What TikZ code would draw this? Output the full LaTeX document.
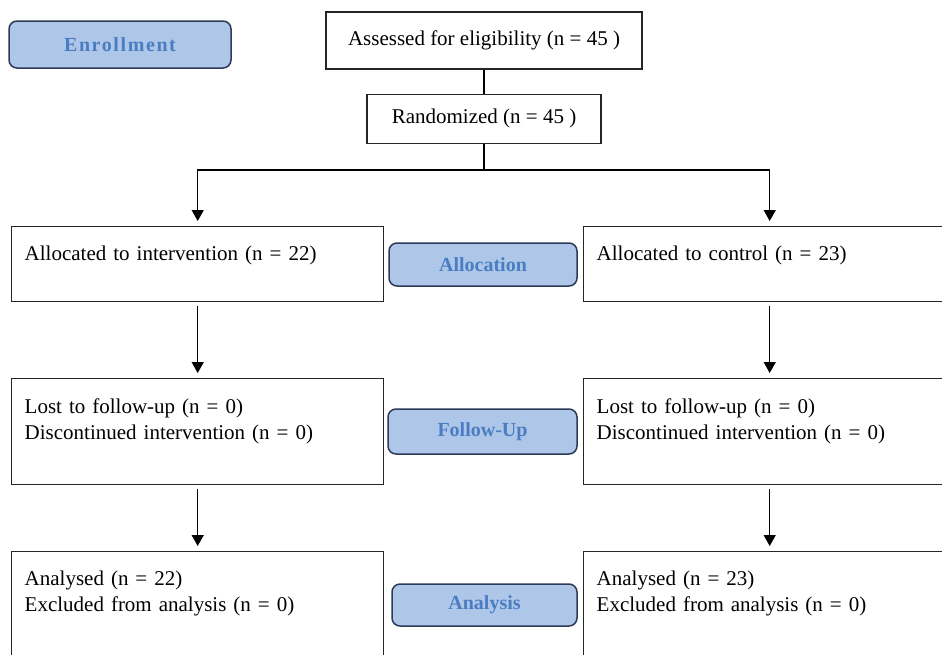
\documentclass[tikz,border=0pt]{standalone}
\usepackage{fontspec}
\setmainfont{Liberation Serif}
\usetikzlibrary{positioning, arrows.meta}

\definecolor{phasefill}{HTML}{AEC6E8}
\definecolor{phaseline}{HTML}{2C3B57}
\definecolor{phasetext}{HTML}{4A7DC2}

\begin{document}
\begin{tikzpicture}[
    x=1pt, y=1pt,
    font=\fontsize{21}{26}\selectfont,
    >={Triangle[width=12pt,length=11pt]},
    line width=1.4pt,
    box/.style={rectangle, draw=black!85, inner sep=0pt, align=center},
    armbox/.style={rectangle, draw=black!85, anchor=north west, inner xsep=13pt, inner ysep=0pt, text width=346pt, align=left},
    phase/.style={rectangle, draw=phaseline, fill=phasefill, rounded corners=8pt, line width=1.5pt, text=phasetext, font=\fontsize{20}{24}\selectfont\bfseries, inner sep=0pt}
]
\useasboundingbox (0,0) rectangle (942,-654);

% trial flow, top
\node[box, minimum width=316pt, minimum height=57pt] (assess) at (484,-40.5) {Assessed for eligibility (n = 45 )};
\node[box, minimum width=234pt, minimum height=49pt, below=24pt of assess] (rand) {Randomized (n = 45 )};

% phase labels
\node[phase, minimum width=222pt, minimum height=47pt] (enrol) at (120,-44.5) {\addfontfeature{LetterSpace=8}Enrollment};
\node[phase, minimum width=188pt, minimum height=43pt] (alloc) at (483,-264.5) {Allocation};
\node[phase, minimum width=189pt, minimum height=45pt] (follow) at (482.5,-431.5) {Follow-Up};
\node[phase, minimum width=185pt, minimum height=42pt] (analysis) at (484.5,-605) {Analysis};

% the two arms
\node[armbox, text height=34pt, text depth=41pt] (allocL) at (11,-226) {Allocated to intervention (n = 22)};
\node[armbox, text height=34pt, text depth=41pt] (allocR) at (583,-226) {Allocated to control (n = 23)};
\node[armbox, text height=35pt, text depth=71pt] (lostL) at (11,-378) {Lost to follow-up (n = 0)\\Discontinued intervention (n = 0)};
\node[armbox, text height=35pt, text depth=71pt] (lostR) at (583,-378) {Lost to follow-up (n = 0)\\Discontinued intervention (n = 0)};
\node[armbox, text height=34pt, text depth=90pt] (anaL) at (11,-551) {Analysed (n = 22)\\Excluded from analysis (n = 0)};
\node[armbox, text height=34pt, text depth=90pt] (anaR) at (583,-551) {Analysed (n = 23)\\Excluded from analysis (n = 0)};

% connectors
\draw (assess) -- (rand);
\draw (rand.south) -- ++(0,-26) coordinate (split);
\draw[->, shorten >=5pt] (split) -| (allocL.north);
\draw[->, shorten >=5pt] (split) -| (allocR.north);
\draw[->, shorten <=4pt, shorten >=5pt] (allocL) -- (lostL);
\draw[->, shorten <=4pt, shorten >=5pt] (allocR) -- (lostR);
\draw[->, shorten <=4pt, shorten >=5pt] (lostL) -- (anaL);
\draw[->, shorten <=4pt, shorten >=5pt] (lostR) -- (anaR);

\end{tikzpicture}
\end{document}
